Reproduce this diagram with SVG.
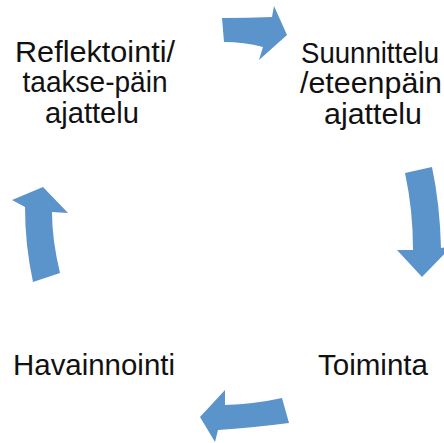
<svg xmlns="http://www.w3.org/2000/svg" width="444" height="443" viewBox="0 0 444 443">
<style>
.t{font-family:"Liberation Sans",Arial,sans-serif;font-size:29px;fill:#111;text-anchor:middle}
.a{fill:#5B93CB}
</style>
<rect width="444" height="443" fill="#fff"/>
<g id="connectors">
<path class="a" d="M222,18 Q248,18 272,17 L274,6 L287,35 L259,60 L263,47 Q244,42 224,42 Z"/>
<path class="a" d="M405,173 L432,167 Q440,205 441,248 L452,246 L422,277 L397,250 L413,250 Q413,210 405,173 Z"/>
<path class="a" d="M282,398 L289,423 Q250,428 218,430 L215,442 L200,417 L225,390 L225,405 Q255,404 282,398 Z"/>
<path class="a" d="M33,282 L60,273 Q52,240 52,212 L68,213 L43,187 L12,200 L25,207 Q25,245 33,282 Z"/>
</g>
<g id="reflektointi">
<text class="t" x="95" y="62" textLength="160" lengthAdjust="spacingAndGlyphs">Reflektointi/</text>
<text class="t" x="95" y="92" textLength="145" lengthAdjust="spacingAndGlyphs">taakse-päin</text>
<text class="t" x="92" y="123" textLength="94" lengthAdjust="spacingAndGlyphs">ajattelu</text>
</g>
<g id="suunnittelu">
<text class="t" x="370" y="63" textLength="138" lengthAdjust="spacingAndGlyphs">Suunnittelu</text>
<text class="t" x="371" y="93" textLength="142" lengthAdjust="spacingAndGlyphs">/eteenpäin</text>
<text class="t" x="373" y="124" textLength="98" lengthAdjust="spacingAndGlyphs">ajattelu</text>
</g>
<g id="toiminta">
<text class="t" x="373" y="375" textLength="110" lengthAdjust="spacingAndGlyphs">Toiminta</text>
</g>
<g id="havainnointi">
<text class="t" x="94" y="375" textLength="162" lengthAdjust="spacingAndGlyphs">Havainnointi</text>
</g>
</svg>
